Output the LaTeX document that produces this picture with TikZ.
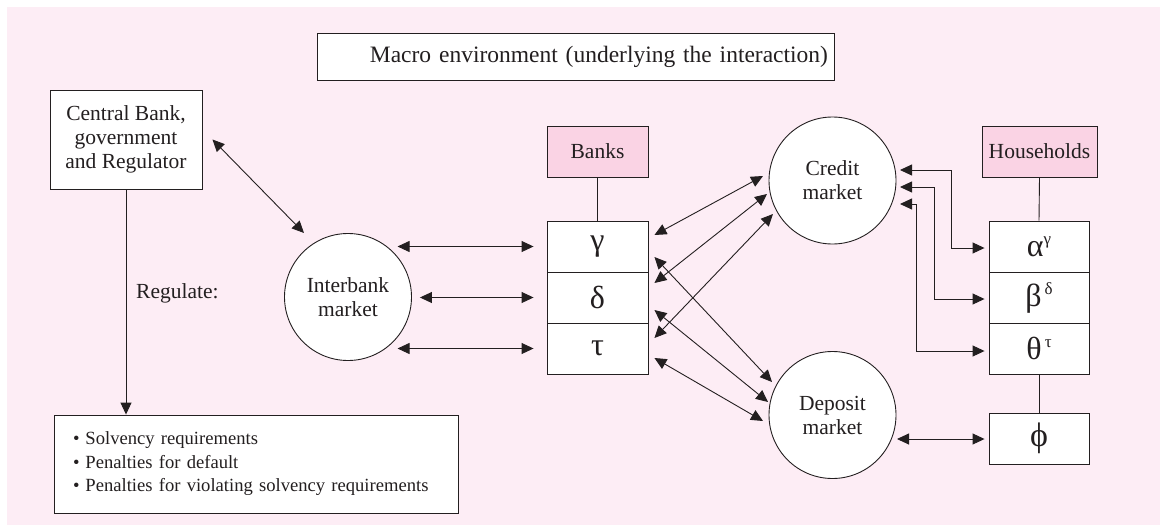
\documentclass[tikz,border=0pt]{standalone}
\usepackage{fontspec}
\setmainfont{Liberation Serif}
\usetikzlibrary{arrows.meta,calc,positioning}
\definecolor{bgpink}{RGB}{253,237,245}
\definecolor{boxpink}{RGB}{250,211,228}
\definecolor{ink}{RGB}{35,31,32}
\newcommand{\gk}[1]{{\fontsize{32}{34}\selectfont #1}}
\newcommand{\gsup}[1]{\raisebox{12pt}{\fontsize{17}{17}\selectfont #1}}
\begin{document}
\begin{tikzpicture}[x=1pt,y=-1pt,
  every node/.style={font=\fontsize{21.5}{24}\selectfont, text=ink},
  line/.style={draw=ink, line width=0.9pt},
  box/.style={line, rectangle, fill=white, inner sep=0pt},
  pinkbox/.style={box, fill=boxpink},
  market/.style={line, circle, fill=white, minimum size=127pt, inner sep=0pt, align=center},
  cell/.style={box, minimum width=100pt, minimum height=51pt},
  arr/.style={line, -{Triangle[length=12pt,width=11pt]}},
  both/.style={line, {Triangle[length=12pt,width=11pt]}-{Triangle[length=12pt,width=11pt]}}
]
\useasboundingbox (0,0) rectangle (1160,525);
\fill[bgpink] (7,7) rectangle (1160,525);

% nodes
\node[box, minimum width=517pt, minimum height=47pt, text width=505pt, inner xsep=6pt, align=right,
  font=\fontsize{23.5}{26}\selectfont] (macro) at (575.5,56.5) {Macro environment (underlying the interaction)};
\node[box, minimum width=152pt, minimum height=99pt, align=center] (cb) at (126,139.5)
  {Central Bank,\\government\\and Regulator};
\node[anchor=west, inner sep=0pt] (reg) at (136,293) {Regulate:};
\node[box, minimum width=404pt, minimum height=98pt, text width=366pt, inner xsep=19pt, align=left,
  font=\fontsize{18.6}{23.5}\selectfont] (bul) at (256,464)
  {\mbox{\textbullet\hspace{6pt}Solvency requirements}\\
   \mbox{\textbullet\hspace{6pt}Penalties for default}\\
   \mbox{\textbullet\hspace{6pt}Penalties for violating solvency requirements}};
\node[market] (ib) at (348,297) {Interbank\\market};
\node[pinkbox, minimum width=101pt, minimum height=51pt] (banks) at (597.5,151.5) {Banks};
\node[cell, minimum width=101pt] (g) at (597.5,246.5) {\gk{γ}};
\node[cell, minimum width=101pt] (d) at (597.5,297.5) {\gk{δ}};
\node[cell, minimum width=101pt] (t) at (597.5,348.5) {\gk{τ}};
\node[market] (cm) at (832.5,180.5) {Credit\\market};
\node[market] (dm) at (832.5,415) {Deposit\\market};
\node[pinkbox, minimum width=115pt, minimum height=51pt] (hh) at (1039.5,151.5) {Households};
\node[cell] (a) at (1039,246.5) {\gk{α}\gsup{γ}};
\node[cell] (b) at (1039,297.5) {\gk{β}\hspace{3pt}\gsup{δ}};
\node[cell] (th) at (1039,348.5) {\gk{θ}\hspace{3pt}\gsup{τ}};
\node[cell] (ph) at (1039,438.5) {\fontsize{34}{36}\selectfont ϕ};

% plain links
\draw[line] (banks.south) -- (g.north);
\draw[line] (hh.south) -- (a.north);
\draw[line] (th.south) -- (ph.north);

% regulation
\draw[arr] (cb.south) -- (cb.south |- bul.north);
\draw[both] ($(cb.east)+(10,0)$) -- ($(ib.center)+(-44,-64)$);

% interbank
\draw[both] ($(g.west)+(-13,0)$) -- ($(g.west)+(-149,0)$);
\draw[both] ($(d.west)+(-13,0)$) -- ($(ib.east)+(8,0.5)$);
\draw[both] ($(t.west)+(-13,0)$) -- ($(t.west)+(-149,0)$);

% banks to credit market
\draw[both] ($(g.east)+(6,-11.5)$) -- ($(cm.center)+(-69.5,-4.5)$);
\draw[both] ($(d.east)+(6,-14.5)$) -- ($(cm.center)+(-65.5,13.5)$);
\draw[both] ($(t.east)+(6,-10.5)$) -- ($(cm.center)+(-59.5,33.5)$);

% banks to deposit market
\draw[both] ($(g.east)+(6,10.5)$) -- ($(dm.center)+(-60.5,-33)$);
\draw[both] ($(d.east)+(6,12.5)$) -- ($(dm.center)+(-64.5,-13)$);
\draw[both] ($(t.east)+(6,9.5)$) -- ($(dm.center)+(-69.5,6)$);

% credit market to households
\draw[both] ($(cm.center)+(67.5,-10.5)$) -- ++(51,0) |- ($(a.west)+(-4,1.5)$);
\draw[both] ($(cm.center)+(67.5,6.5)$) -- ++(34,0) |- ($(b.west)+(-4,1.5)$);
\draw[both] ($(cm.center)+(67.5,23.5)$) -- ++(16,0) |- ($(th.west)+(-4,2.5)$);

% deposit market to phi
\draw[both] ($(dm.center)+(64.5,24)$) -- ($(ph.west)+(-4,0.5)$);
\end{tikzpicture}
\end{document}
